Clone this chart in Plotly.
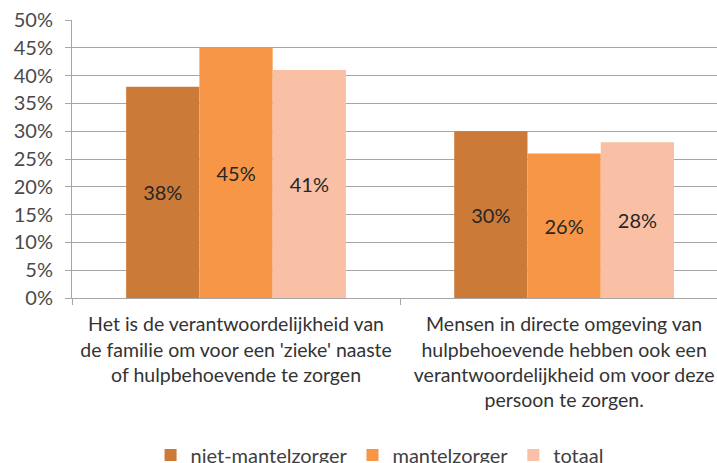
import plotly.graph_objects as go

categories = [
    "Het is de verantwoordelijkheid van<br>de familie om voor een 'zieke' naaste<br>of hulpbehoevende te zorgen",
    "Mensen in directe omgeving van<br>hulpbehoevende hebben ook een<br>verantwoordelijkheid om voor deze<br>persoon te zorgen.",
]
series_names = ["niet-mantelzorger", "mantelzorger", "totaal"]
niet_mantelzorger = [0.38, 0.30]
mantelzorger = [0.45, 0.26]
totaal = [0.41, 0.28]
colors = ["#CC7A38", "#F79646", "#F9C0A5"]
y_ticks = [0, 0.05, 0.10, 0.15, 0.20, 0.25, 0.30, 0.35, 0.40, 0.45, 0.50]
y_tick_labels = ["0%", "5%", "10%", "15%", "20%", "25%", "30%", "35%", "40%", "45%", "50%"]

FONT = "Lato, 'Open Sans', sans-serif"

fig = go.Figure()
for name, vals, col in zip(series_names, [niet_mantelzorger, mantelzorger, totaal], colors):
    fig.add_trace(go.Bar(
        x=categories, y=vals, name=name, marker=dict(color=col, line=dict(width=0)),
        text=[f"{round(v*100)}%" for v in vals], textposition="inside",
        insidetextanchor="middle", textangle=0,
        textfont=dict(size=20, color="#262626", family=FONT),
    ))

fig.update_layout(
    width=717, height=463,
    margin=dict(l=72, r=0, t=20, b=165, autoexpand=False),
    barmode="group", bargap=0.33, bargroupgap=0,
    plot_bgcolor="white", paper_bgcolor="white",
    font=dict(family=FONT, size=20, color="#404040"),
    showlegend=True,
    legend=dict(orientation="h", xref="container", yref="container",
                x=0.21, y=0.0173, xanchor="left", yanchor="middle",
                font=dict(size=20, color="#404040"), itemwidth=30,
                traceorder="normal"),
    uniformtext=dict(mode=False),
)
fig.update_yaxes(
    range=[0, 0.5], tickvals=y_ticks, ticktext=y_tick_labels,
    showgrid=True, gridcolor="#A6A6A6", gridwidth=1,
    showline=True, linecolor="#A6A6A6", linewidth=1,
    ticks="outside", ticklen=6, tickcolor="#A6A6A6", ticklabelstandoff=8,
    tickfont=dict(size=20, color="#4A4A4A"), zeroline=False, automargin=False,
)
fig.update_xaxes(
    range=[-0.5, 1.466], tickangle=0, automargin=False,
    showline=True, linecolor="#A6A6A6", linewidth=1,
    ticks="outside", ticklen=6, tickcolor="#A6A6A6", tickson="boundaries",
    ticklabelstandoff=9,
    tickfont=dict(size=19.5, color="#333333"),
    showgrid=False,
)
fig.write_html(
    "out.html",
    config={"displayModeBar": False},
    post_script="document.body.style.margin='0';document.body.style.overflow='hidden';",
)
